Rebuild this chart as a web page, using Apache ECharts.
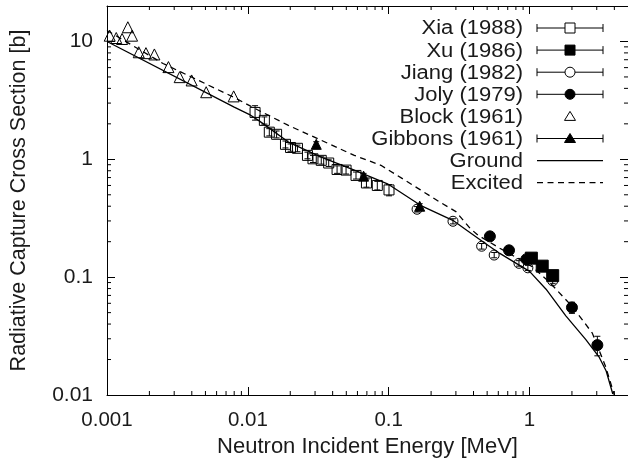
<!DOCTYPE html>
<html>
<head>
  <meta charset="utf-8">
  <title>Radiative capture cross section</title>
  <script src="https://cdn.jsdelivr.net/npm/echarts@6/dist/echarts.min.js"></script>
</head>
<body style="margin:0;background:#fff">
  <div id="main" style="width:628px;height:466px;"></div>
  <script type="text/javascript">
    // measured data (energy in MeV, cross section in barn)
    var xiaX = [0.01125, 0.0131, 0.0142, 0.0160, 0.0185, 0.0201, 0.0225, 0.0265, 0.0290, 0.0332, 0.0375, 0.0430, 0.0498, 0.0586, 0.0695, 0.0830, 0.1005];
    var xiaY = [2.50, 2.14, 1.70, 1.63, 1.34, 1.26, 1.24, 1.08, 1.01, 0.98, 0.93, 0.82, 0.81, 0.73, 0.63, 0.60, 0.55];
    var xiaErr = [0.35, 0.15, 0.12, 0.11, 0.09, 0.09, 0.08, 0.07, 0.07, 0.07, 0.06, 0.06, 0.06, 0.05, 0.05, 0.05, 0.06];

    var xuX = [1.03, 1.23, 1.46];
    var xuY = [0.145, 0.124, 0.103];
    var xuErr = [0.006, 0.005, 0.005];

    var jiangX = [0.159, 0.286, 0.457, 0.561, 0.841, 0.973, 1.46];
    var jiangY = [0.377, 0.298, 0.183, 0.154, 0.131, 0.120, 0.093];
    var jiangErr = [0.02, 0.015, 0.01, 0.008, 0.007, 0.006, 0.005];

    var jolyX = [0.523, 0.715, 0.95, 2.00, 3.03];
    var jolyY = [0.222, 0.169, 0.142, 0.0553, 0.0265];
    var jolyErr = [0.01, 0.008, 0.008, 0.006, 0.005];

    var blockX = [0.001045, 0.001163, 0.00128, 0.001406, 0.001507, 0.00168, 0.00189, 0.00217, 0.00273, 0.00328, 0.00399, 0.00506, 0.00793];
    var blockY = [11.2, 10.7, 10.5, 13.2, 11.2, 8.1, 7.96, 7.76, 6.06, 4.98, 4.67, 3.71, 3.42];

    var gibbonsX = [0.0306, 0.0663, 0.166];
    var gibbonsY = [1.34, 0.72, 0.40];
    var gibbonsErr = [0.07, 0.04, 0.02];

    // evaluated curves
    var groundX = [0.001, 0.008, 0.0102, 0.0119, 0.0194, 0.0332, 0.057, 0.098, 0.168, 0.29, 0.358, 0.469, 0.615, 0.805, 1.0, 1.31, 1.81, 2.51, 3.11, 3.5, 3.9];
    var groundY = [10.0, 2.77, 2.41, 2.14, 1.40, 1.045, 0.81, 0.62, 0.407, 0.30, 0.25, 0.199, 0.159, 0.131, 0.112, 0.079, 0.047, 0.0295, 0.0211, 0.016, 0.0102];
    var excitedX = [0.001, 0.0025, 0.008, 0.0113, 0.0194, 0.0332, 0.057, 0.088, 0.109, 0.168, 0.226, 0.30, 0.378, 0.43, 0.615, 0.805, 1.05, 1.38, 2.02, 2.79, 3.47, 4.0];
    var excitedY = [12.4, 6.5, 3.35, 2.69, 1.94, 1.45, 1.08, 0.89, 0.76, 0.55, 0.44, 0.36, 0.26, 0.227, 0.176, 0.147, 0.122, 0.091, 0.056, 0.0335, 0.0174, 0.01];

    // minor tick positions
    var xMinor = [0.002, 0.003, 0.004, 0.005, 0.006, 0.007, 0.008, 0.009,
                  0.02, 0.03, 0.04, 0.05, 0.06, 0.07, 0.08, 0.09,
                  0.2, 0.3, 0.4, 0.5, 0.6, 0.7, 0.8, 0.9, 2, 3, 4];
    var yMinor = [0.02, 0.03, 0.04, 0.05, 0.06, 0.07, 0.08, 0.09,
                  0.2, 0.3, 0.4, 0.5, 0.6, 0.7, 0.8, 0.9,
                  2, 3, 4, 5, 6, 7, 8, 9];

    var FONT = 'Liberation Sans';
    var INK = '#1a1a1a';

    function zip(a, b) {
      return a.map(function (v, i) { return [v, b[i]]; });
    }

    function powLabel(v) {
      var e = Math.log10(v);
      if (Math.abs(e - Math.round(e)) > 1e-6) return '';
      return String(+Math.pow(10, Math.round(e)).toPrecision(3));
    }

    function errSeries(xs, ys, es) {
      return {
        type: 'custom', z: 4, silent: true,
        data: xs.map(function (x, i) { return [x, ys[i], es[i]]; }),
        renderItem: function (params, api) {
          var x = api.value(0), y = api.value(1), e = api.value(2);
          var lo = api.coord([x, y - e]), hi = api.coord([x, y + e]);
          var s = { stroke: '#000', lineWidth: 1 };
          return {
            type: 'group', children: [
              { type: 'line', shape: { x1: lo[0], y1: lo[1], x2: hi[0], y2: hi[1] }, style: s },
              { type: 'line', shape: { x1: lo[0] - 3, y1: lo[1], x2: lo[0] + 3, y2: lo[1] }, style: s },
              { type: 'line', shape: { x1: hi[0] - 3, y1: hi[1], x2: hi[0] + 3, y2: hi[1] }, style: s }
            ]
          };
        }
      };
    }

    function minorTicks(vals, isX) {
      return {
        type: 'custom', z: 5, silent: true,
        data: vals.map(function (v) { return isX ? [v, 1] : [0.01, v]; }),
        renderItem: function (params, api) {
          var cs = params.coordSys;
          var p = api.coord([api.value(0), api.value(1)]);
          var s = { stroke: '#000', lineWidth: 1 };
          var kids;
          if (isX) {
            var yb = cs.y + cs.height;
            kids = [
              { type: 'line', shape: { x1: p[0], y1: yb, x2: p[0], y2: yb - 4 }, style: s },
              { type: 'line', shape: { x1: p[0], y1: cs.y, x2: p[0], y2: cs.y + 4 }, style: s }
            ];
          } else {
            var xr = cs.x + cs.width;
            kids = [
              { type: 'line', shape: { x1: cs.x, y1: p[1], x2: cs.x + 4, y2: p[1] }, style: s },
              { type: 'line', shape: { x1: xr, y1: p[1], x2: xr - 4, y2: p[1] }, style: s }
            ];
          }
          return { type: 'group', children: kids };
        }
      };
    }

    function scatter(xs, ys, symbol, size, filled) {
      return {
        type: 'scatter', z: 3, symbol: symbol, symbolSize: size,
        data: zip(xs, ys),
        itemStyle: {
          color: filled ? '#000' : 'rgba(0,0,0,0)',
          borderColor: '#000', borderWidth: 1, opacity: 1
        }
      };
    }

    // legend drawn with graphic elements
    var legendRows = [
      ['Xia (1988)', 'rect', false, true],
      ['Xu (1986)', 'rect', true, true],
      ['Jiang (1982)', 'circle', false, true],
      ['Joly (1979)', 'circle', true, true],
      ['Block (1961)', 'triangle', false, false],
      ['Gibbons (1961)', 'triangle', true, true],
      ['Ground', 'solid', false, false],
      ['Excited', 'dashed', false, false]
    ];
    var legendY0 = 28, legendStep = 22.1;
    var gfx = [];
    legendRows.forEach(function (r, i) {
      var yc = legendY0 + i * legendStep;
      var ln = { stroke: '#000', lineWidth: 1 };
      gfx.push({ type: 'text', x: 523, y: yc + 1, scaleY: 0.9, style: { text: r[0], fill: INK, font: '22px "' + FONT + '"', align: 'right', verticalAlign: 'middle' } });
      if (r[1] === 'solid' || r[1] === 'dashed') {
        gfx.push({ type: 'line', shape: { x1: 537, y1: yc, x2: 603, y2: yc }, style: { stroke: '#000', lineWidth: 1.3, lineDash: r[1] === 'dashed' ? [6, 4.5] : null } });
        return;
      }
      if (r[3]) {
        gfx.push({ type: 'line', shape: { x1: 537, y1: yc, x2: 603, y2: yc }, style: ln });
        gfx.push({ type: 'line', shape: { x1: 537, y1: yc - 4, x2: 537, y2: yc + 4 }, style: ln });
        gfx.push({ type: 'line', shape: { x1: 603, y1: yc - 4, x2: 603, y2: yc + 4 }, style: ln });
      }
      var st = { fill: r[2] ? '#000' : '#fff', stroke: '#000', lineWidth: 1 };
      if (r[1] === 'rect') {
        gfx.push({ type: 'rect', shape: { x: 565, y: yc - 5, width: 10, height: 10 }, style: st, z: 10 });
      } else if (r[1] === 'circle') {
        gfx.push({ type: 'circle', shape: { cx: 570, cy: yc, r: 5 }, style: st, z: 10 });
      } else {
        gfx.push({ type: 'polygon', shape: { points: [[570, yc - 5], [564.5, yc + 4], [575.5, yc + 4]] }, style: st, z: 10 });
      }
    });

    var axisCommon = {
      type: 'log', logBase: 10,
      axisLine: { show: true, onZero: false, lineStyle: { color: '#000', width: 1 } },
      axisTick: { show: true, inside: true, length: 8, lineStyle: { color: '#000', width: 1 } },
      splitLine: { show: false },
      minorTick: { show: false }
    };

    var option = {
      animation: false,
      backgroundColor: '#fff',
      grid: { left: 104, top: 6, right: -1, bottom: 71, containLabel: false },
      graphic: gfx,
      xAxis: [
        Object.assign({}, axisCommon, {
          min: 0.001, max: 5, position: 'bottom',
          axisLabel: { formatter: powLabel, color: INK, fontFamily: FONT, fontSize: 20.5, margin: 15, showMaxLabel: false },
          name: 'Neutron Incident Energy [MeV]', nameLocation: 'middle', nameGap: 35,
          nameTextStyle: { color: INK, fontFamily: FONT, fontSize: 22 }
        }),
        Object.assign({}, axisCommon, {
          min: 0.001, max: 5, position: 'top', axisLabel: { show: false }
        })
      ],
      yAxis: [
        Object.assign({}, axisCommon, {
          min: 0.01, max: 20, position: 'left',
          axisLabel: { formatter: powLabel, color: INK, fontFamily: FONT, fontSize: 21, margin: 14, showMaxLabel: false },
          name: 'Radiative Capture Cross Section [b]', nameLocation: 'middle', nameGap: 77,
          nameTextStyle: { color: INK, fontFamily: FONT, fontSize: 21.5 }
        }),
        Object.assign({}, axisCommon, {
          min: 0.01, max: 20, position: 'right', axisLabel: { show: false }
        })
      ],
      series: [
        { type: 'line', z: 2, data: zip(groundX, groundY), showSymbol: false, symbol: 'none', lineStyle: { color: '#000', width: 1.3 } },
        { type: 'line', z: 2, data: zip(excitedX, excitedY), showSymbol: false, symbol: 'none', lineStyle: { color: '#000', width: 1.3, type: [6, 4.5] } },
        scatter(xiaX, xiaY, 'rect', 10, false),
        scatter(xuX, xuY, 'rect', 12, true),
        scatter(jiangX, jiangY, 'circle', 10, false),
        scatter(jolyX, jolyY, 'circle', 11, true),
        scatter(blockX, blockY, 'triangle', 11, false),
        scatter(gibbonsX, gibbonsY, 'triangle', 10, true),
        errSeries(xiaX, xiaY, xiaErr),
        errSeries(xuX, xuY, xuErr),
        errSeries(jiangX, jiangY, jiangErr),
        errSeries(jolyX, jolyY, jolyErr),
        errSeries(gibbonsX, gibbonsY, gibbonsErr),
        minorTicks(xMinor, true),
        minorTicks(yMinor, false)
      ]
    };

    var myChart = echarts.init(document.getElementById('main'));
    myChart.setOption(option);
  </script>
</body>
</html>
